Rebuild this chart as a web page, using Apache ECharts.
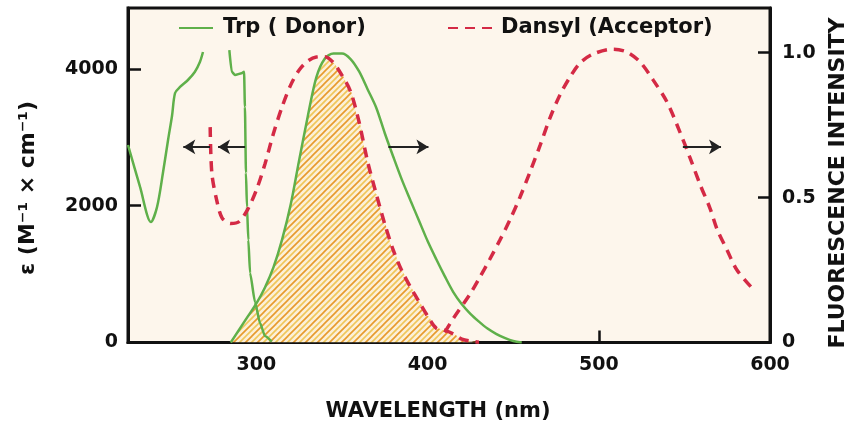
<!DOCTYPE html>
<html>
<head>
<meta charset="utf-8">
<script src="https://cdn.jsdelivr.net/npm/echarts@6/dist/echarts.min.js"></script>
<style>html,body{margin:0;padding:0;background:#fff}#c{width:851px;height:426px}</style>
</head>
<body>
<div id="c"></div>
<script>
// ---- data ----
const xTickLabels = [300, 400, 500, 600];
const leftTickLabels = [0, 2000, 4000];
const rightTickLabels = [0, 0.5, 1.0];

// Trp absorption (epsilon, left axis) – two visible pieces (peak hidden behind legend)
const trpAbsWlA  = [225, 232, 238.4, 242, 245.4, 248.4, 250.7, 252.5, 255.4, 260, 264, 267, 268.8];
const trpAbsEpsA = [2888, 2279, 1762, 1986, 2479, 2962, 3313, 3649, 3737, 3839, 3956, 4102, 4248];
const trpAbsWlB  = [284.2, 285.6, 287.5, 291.4, 292.8, 293.3, 293.9, 294.5, 295.3, 296.3, 299.2, 302.1, 305, 309];
const trpAbsEpsB = [4277, 3960, 3912, 3937, 3960, 3443, 2479, 1982, 1499, 1016, 592, 285, 95, 12];

// Trp emission (normalised, right axis)
const trpEmWl = [285, 290, 295, 300, 305, 310, 315, 320, 325, 330, 335, 340, 345, 350, 355, 360, 365, 370, 375, 380, 385, 390, 395, 400, 405, 410, 415, 420, 425, 430, 435, 440, 445, 450, 455];
const trpEmI  = [0, 0.045, 0.09, 0.135, 0.19, 0.26, 0.355, 0.475, 0.63, 0.78, 0.915, 0.98, 0.997, 0.997, 0.978, 0.935, 0.873, 0.81, 0.722, 0.64, 0.561, 0.49, 0.42, 0.35, 0.288, 0.229, 0.174, 0.132, 0.099, 0.072, 0.048, 0.03, 0.016, 0.005, 0];

// Dansyl absorption (epsilon, left axis)
const dansAbsWl  = [273, 274, 277, 280, 285, 290, 295, 300, 305, 310, 315, 320, 325, 330, 335, 340, 345, 350, 355, 360, 365, 370, 375, 380, 385, 390, 395, 400, 405, 410, 415, 420, 425, 430];
const dansAbsEps = [3150, 2470, 2060, 1820, 1740, 1770, 1950, 2230, 2610, 3060, 3446, 3764, 3986, 4117, 4175, 4180, 4092, 3908, 3670, 3222, 2642, 2172, 1731, 1346, 1046, 810, 596, 386, 211, 180, 125, 50, 20, 5];

// Dansyl emission (normalised, right axis)
const dansEmWl = [410, 414.8, 424.8, 430.6, 436.4, 442.3, 448.1, 454, 459.8, 465.7, 471.5, 477.3, 483.2, 489, 496.6, 508.3, 516.5, 524.1, 531.7, 539.8, 547.4, 553.3, 559.3, 564.9, 569, 574.9, 580.7, 590.1];
const dansEmI  = [0.035, 0.081, 0.167, 0.226, 0.288, 0.354, 0.423, 0.502, 0.588, 0.68, 0.775, 0.854, 0.916, 0.964, 0.995, 1.012, 1.002, 0.968, 0.906, 0.83, 0.726, 0.637, 0.543, 0.464, 0.392, 0.319, 0.25, 0.184];

// arrows: [fromWl, toWl] at epsilon level arrowEps
const arrowEps = 2860;
const arrows = [[272.9, 257.3], [293.4, 277.6], [377.1, 400.5], [549.1, 571.4]];

// ---- chart ----
const L_MAX = 4892, R_MAX = 1.154;
const zip = (a, b) => a.map((x, i) => [x, b[i]]);

// overlap (hatched) region: lower of the two curves where both share a wavelength
const absMap = {};
dansAbsWl.forEach((w, i) => absMap[w] = dansAbsEps[i]);
const overlap = [];
trpEmWl.forEach((w, i) => {
  if (absMap[w] !== undefined) overlap.push([w, Math.min(trpEmI[i], absMap[w] * R_MAX / L_MAX)]);
});

// hatch pattern
const pc = document.createElement('canvas');
pc.width = 12; pc.height = 12;
const g = pc.getContext('2d');
g.fillStyle = '#fcf0d8'; g.fillRect(0, 0, 12, 12);
g.lineWidth = 1.6; g.lineCap = 'square';
function diag(c, col) { g.strokeStyle = col; g.beginPath(); g.moveTo(c - 14, 14); g.lineTo(c + 2, -2); g.stroke(); }
[0, 12, 24].forEach(c => diag(c, '#e79a2c'));
[6, 18].forEach(c => diag(c, '#f0c75a'));

const GREEN = '#5fb04a', RED = '#d42a45', FONT = 'DejaVu Sans';
const chart = echarts.init(document.getElementById('c'));
const lblStyle = { fontFamily: FONT, fontWeight: 'bold', fontSize: 19, color: '#111' };
const legendText = { fontFamily: FONT, fontWeight: 'bold', fontSize: 21, color: '#111', lineHeight: 24 };

chart.setOption({
  animation: false,
  backgroundColor: '#ffffff',
  textStyle: { fontFamily: FONT },
  grid: { left: 128, right: 81, top: 8, bottom: 83.5, show: true, backgroundColor: '#fdf6ec', borderColor: '#111', borderWidth: 3 },
  legend: [
    { data: ['Trp ( Donor)'], left: 178, top: 16, padding: 0, itemWidth: 34, itemHeight: 14, selectedMode: false,
      itemStyle: { opacity: 0 },
      textStyle: Object.assign({ padding: [0, 0, 0, 5] }, legendText) },
    { data: ['Dansyl (Acceptor)'], left: 447, top: 16, padding: 0, itemWidth: 45, itemHeight: 14, selectedMode: false,
      itemStyle: { opacity: 0 },
      textStyle: Object.assign({ padding: [0, 0, 0, 3] }, legendText) }
  ],
  xAxis: {
    type: 'value', min: 225, max: 600,
    axisLine: { lineStyle: { color: '#111', width: 3 } },
    axisTick: { inside: true, length: 12, lineStyle: { color: '#111', width: 2.5 }, customValues: [300, 400, 500] },
    axisLabel: Object.assign({ margin: 13, customValues: xTickLabels, formatter: v => String(v) }, lblStyle),
    splitLine: { show: false }
  },
  yAxis: [
    { type: 'value', min: 0, max: L_MAX, position: 'left',
      axisLine: { show: true, lineStyle: { color: '#111', width: 3 } },
      axisTick: { show: true, inside: true, length: 13, lineStyle: { color: '#111', width: 2.5 }, customValues: [2000, 4000] },
      axisLabel: Object.assign({ margin: 10, customValues: leftTickLabels, formatter: v => String(v) }, lblStyle),
      splitLine: { show: false } },
    { type: 'value', min: 0, max: R_MAX, position: 'right',
      axisLine: { show: true, lineStyle: { color: '#111', width: 3 } },
      axisTick: { show: true, inside: true, length: 12, lineStyle: { color: '#111', width: 2.5 }, customValues: [0.5, 1.0] },
      axisLabel: Object.assign({ margin: 12, customValues: rightTickLabels, formatter: v => v === 0 ? '0' : v.toFixed(1) }, lblStyle),
      splitLine: { show: false } }
  ],
  series: [
    { name: 'overlap', type: 'line', yAxisIndex: 1, data: overlap, symbol: 'none', smooth: 0.3, smoothMonotone: 'x',
      lineStyle: { width: 0 }, areaStyle: { color: { image: pc, repeat: 'repeat' }, opacity: 1 }, z: 1 },
    { name: 'Trp ( Donor)', type: 'line', yAxisIndex: 0, data: zip(trpAbsWlA, trpAbsEpsA), symbol: 'none', smooth: 0.3,
      lineStyle: { color: GREEN, width: 2.5 }, itemStyle: { color: GREEN }, z: 3,
      markLine: { silent: true, symbol: ['none', 'arrow'], symbolSize: [11, 12], label: { show: false },
        lineStyle: { color: '#222', width: 2, type: 'solid' },
        data: arrows.map(a => [{ coord: [a[0], arrowEps] }, { coord: [a[1], arrowEps] }]) } },
    { name: 'Trp ( Donor)', type: 'line', yAxisIndex: 0, data: zip(trpAbsWlB, trpAbsEpsB), symbol: 'none', smooth: 0.2, smoothMonotone: 'x',
      lineStyle: { color: GREEN, width: 2.5 }, itemStyle: { color: GREEN }, z: 3 },
    { name: 'Trp ( Donor)', type: 'line', yAxisIndex: 1, data: zip(trpEmWl, trpEmI), symbol: 'none', smooth: 0.3,
      lineStyle: { color: GREEN, width: 2.5 }, itemStyle: { color: GREEN }, z: 3 },
    { name: 'Dansyl (Acceptor)', type: 'line', yAxisIndex: 0, data: zip(dansAbsWl, dansAbsEps), symbol: 'none', smooth: 0.3,
      lineStyle: { color: RED, width: 3.5, type: [10, 7] }, itemStyle: { color: RED }, z: 4 },
    { name: 'Dansyl (Acceptor)', type: 'line', yAxisIndex: 1, data: zip(dansEmWl, dansEmI), symbol: 'none', smooth: 0.3,
      lineStyle: { color: RED, width: 3.5, type: [10, 7] }, itemStyle: { color: RED }, z: 4 }
  ],
  graphic: [
    { type: 'text', x: 438, y: 412, style: { text: 'WAVELENGTH (nm)', align: 'center', verticalAlign: 'middle', font: 'bold 21px "DejaVu Sans"', fill: '#111' } },
    { type: 'text', x: 838, y: 183, rotation: Math.PI / 2, style: { text: 'FLUORESCENCE INTENSITY', align: 'center', verticalAlign: 'middle', font: 'bold 22px "DejaVu Sans"', fill: '#111' } },
    { type: 'text', x: 28, y: 188, rotation: Math.PI / 2, style: { text: 'ε (M⁻¹ × cm⁻¹)', align: 'center', verticalAlign: 'middle', font: 'bold 22px "DejaVu Sans"', fill: '#111' } }
  ]
});
</script>
</body>
</html>
